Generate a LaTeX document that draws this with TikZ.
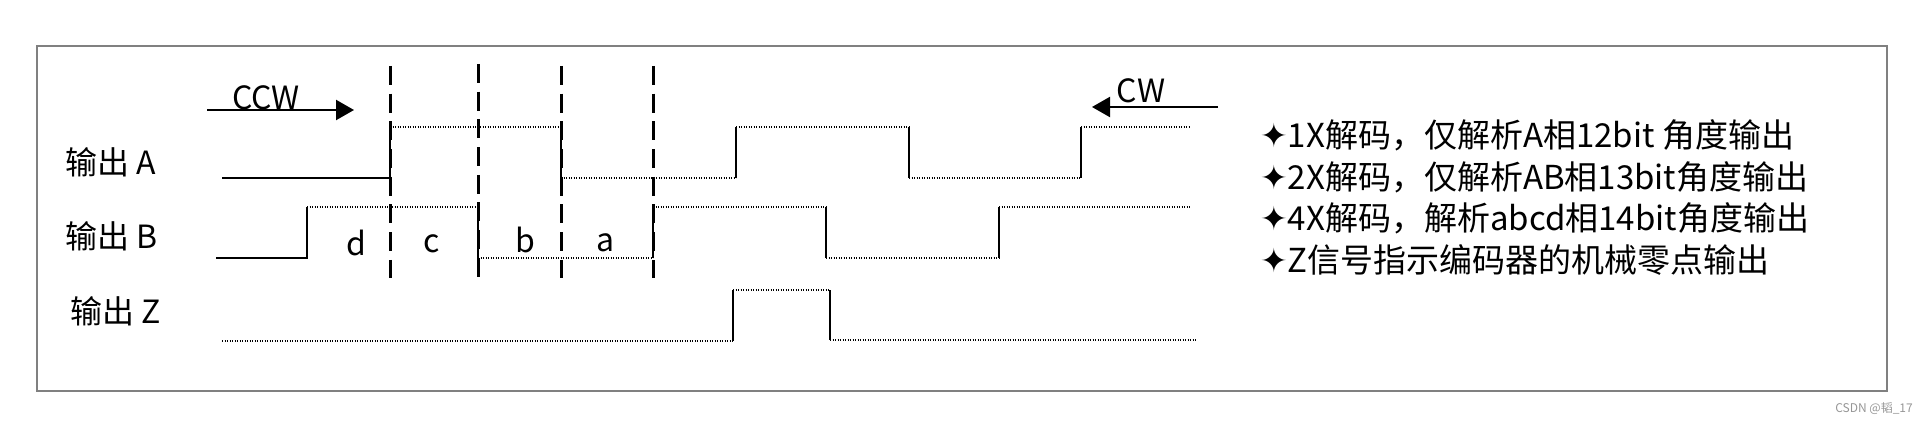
\documentclass[tikz,border=0pt]{standalone}
\usepackage{fontspec}
\setmainfont{Noto Sans CJK SC}
\newfontfamily\starfont{DejaVu Sans}
\usetikzlibrary{arrows.meta}
\definecolor{framegray}{RGB}{128,128,128}
\definecolor{markgray}{RGB}{150,150,150}
\begin{document}
\begin{tikzpicture}[x=1pt,y=-1pt,
  wavesolid/.style={line width=1.7pt, black},
  wavedot/.style={line width=1.7pt, black, dash pattern=on 1.3pt off 1.2pt},
  guide/.style={line width=3pt, black, dash pattern=on 19pt off 8.7pt},
  dirarrow/.style={line width=2.2pt, black, -{Triangle[length=18pt,width=20pt]}},
  bigtxt/.style={inner sep=0pt, font=\fontsize{32}{38}\selectfont},
  lbl/.style={bigtxt, anchor=base west},
  seg/.style={bigtxt, anchor=base},
  note/.style={inner sep=0pt, anchor=base west, font=\fontsize{33}{40}\selectfont}
]
\useasboundingbox (0,0) rectangle (1931,422);
% frame
\draw[framegray, line width=2.6pt] (37,46) rectangle (1887,391);

% guide lines
\draw[guide] (390,66) -- (390,278);
\draw[guide] (478,64) -- (478,277);
\draw[guide] (561,66) -- (561,278);
\draw[guide] (653,66) -- (653,278);

% direction arrows
\coordinate (ccwS) at (207,110);
\coordinate (ccwE) at (354,110);
\coordinate (cwS) at (1218,107);
\coordinate (cwE) at (1092,107);
\node[seg] (ccw) at (266,110) {CCW};
\node[seg] (cw) at (1141,103) {CW};
\draw[dirarrow] (ccwS) -- (ccwE);
\draw[dirarrow] (cwS) -- (cwE);

% channel labels
\node[lbl] (la) at (65,175) {输出 A};
\node[lbl] (lb) at (65,249) {输出 B};
\node[lbl] (lz) at (70,323) {输出 Z};

% wave A
\draw[wavesolid] (222,178) -- (390,178) -- (390,127);
\draw[wavedot] (390,127) -- (561,127);
\draw[wavesolid] (561,127) -- (561,178);
\draw[wavedot] (561,178) -- (736,178);
\draw[wavesolid] (736,178) -- (736,127);
\draw[wavedot] (736,127) -- (909,127);
\draw[wavesolid] (909,127) -- (909,178);
\draw[wavedot] (909,178) -- (1081,178);
\draw[wavesolid] (1081,178) -- (1081,127);
\draw[wavedot] (1081,127) -- (1190,127);

% wave B
\draw[wavesolid] (216,258) -- (307,258) -- (307,207);
\draw[wavedot] (307,207) -- (478,207);
\draw[wavesolid] (478,207) -- (478,258);
\draw[wavedot] (478,258) -- (653,258);
\draw[wavesolid] (653,258) -- (653,207);
\draw[wavedot] (653,207) -- (826,207);
\draw[wavesolid] (826,207) -- (826,258);
\draw[wavedot] (826,258) -- (999,258);
\draw[wavesolid] (999,258) -- (999,207);
\draw[wavedot] (999,207) -- (1191,207);

% wave Z
\draw[wavedot] (222,341) -- (733,341);
\draw[wavesolid] (733,341) -- (733,290);
\draw[wavedot] (733,290) -- (830,290);
\draw[wavesolid] (830,290) -- (830,340);
\draw[wavedot] (830,340) -- (1197,340);

% quadrant letters
\node[seg] (sd) at (356,255) {d};
\node[seg] (sc) at (432,253) {c};
\node[seg] (sb) at (525,253) {b};
\node[seg] (sa) at (606,252) {a};

% notes
\node[note] (n1) at (1260,148) {{\starfont ✦}1X解码，仅解析A相12bit 角度输出};
\node[note] (n2) at (1260,189.5) {{\starfont ✦}2X解码，仅解析AB相13bit角度输出};
\node[note] (n3) at (1260,231) {{\starfont ✦}4X解码，解析abcd相14bit角度输出};
\node[note] (n4) at (1260,272.5) {{\starfont ✦}Z信号指示编码器的机械零点输出};

% watermark
\node[inner sep=0pt, anchor=base east, text=markgray, font=\fontsize{12}{14}\selectfont] (wm) at (1913,412) {CSDN @韬\_17};
\end{tikzpicture}
\end{document}
